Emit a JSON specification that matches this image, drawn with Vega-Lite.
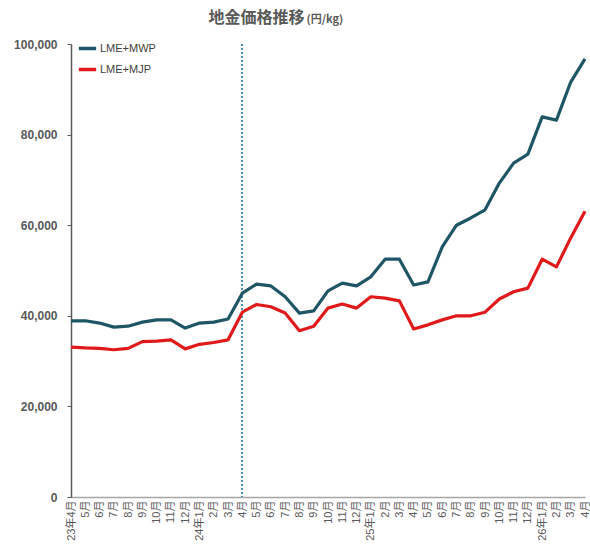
{
  "$schema": "https://vega.github.io/schema/vega-lite/v6.json",
  "autosize": "none",
  "width": 514,
  "height": 453,
  "padding": {"left": 71, "top": 44, "right": 5, "bottom": 57},
  "background": "white",
  "data": {
    "values": [
      {"m": "2023-04", "LME+MWP": 38900, "LME+MJP": 33100},
      {"m": "2023-05", "LME+MWP": 38900, "LME+MJP": 32900},
      {"m": "2023-06", "LME+MWP": 38400, "LME+MJP": 32800},
      {"m": "2023-07", "LME+MWP": 37500, "LME+MJP": 32500},
      {"m": "2023-08", "LME+MWP": 37700, "LME+MJP": 32800},
      {"m": "2023-09", "LME+MWP": 38600, "LME+MJP": 34300},
      {"m": "2023-10", "LME+MWP": 39100, "LME+MJP": 34400},
      {"m": "2023-11", "LME+MWP": 39100, "LME+MJP": 34700},
      {"m": "2023-12", "LME+MWP": 37300, "LME+MJP": 32700},
      {"m": "2024-01", "LME+MWP": 38400, "LME+MJP": 33700},
      {"m": "2024-02", "LME+MWP": 38600, "LME+MJP": 34100},
      {"m": "2024-03", "LME+MWP": 39300, "LME+MJP": 34700},
      {"m": "2024-04", "LME+MWP": 45000, "LME+MJP": 40800},
      {"m": "2024-05", "LME+MWP": 47000, "LME+MJP": 42500},
      {"m": "2024-06", "LME+MWP": 46600, "LME+MJP": 42000},
      {"m": "2024-07", "LME+MWP": 44200, "LME+MJP": 40600},
      {"m": "2024-08", "LME+MWP": 40600, "LME+MJP": 36700},
      {"m": "2024-09", "LME+MWP": 41100, "LME+MJP": 37700},
      {"m": "2024-10", "LME+MWP": 45500, "LME+MJP": 41700},
      {"m": "2024-11", "LME+MWP": 47200, "LME+MJP": 42600},
      {"m": "2024-12", "LME+MWP": 46600, "LME+MJP": 41700},
      {"m": "2025-01", "LME+MWP": 48600, "LME+MJP": 44200},
      {"m": "2025-02", "LME+MWP": 52500, "LME+MJP": 43900},
      {"m": "2025-03", "LME+MWP": 52500, "LME+MJP": 43300},
      {"m": "2025-04", "LME+MWP": 46800, "LME+MJP": 37100},
      {"m": "2025-05", "LME+MWP": 47500, "LME+MJP": 38000},
      {"m": "2025-06", "LME+MWP": 55200, "LME+MJP": 39100},
      {"m": "2025-07", "LME+MWP": 60000, "LME+MJP": 40000},
      {"m": "2025-08", "LME+MWP": 61600, "LME+MJP": 40000},
      {"m": "2025-09", "LME+MWP": 63400, "LME+MJP": 40800},
      {"m": "2025-10", "LME+MWP": 69300, "LME+MJP": 43700},
      {"m": "2025-11", "LME+MWP": 73700, "LME+MJP": 45300},
      {"m": "2025-12", "LME+MWP": 75700, "LME+MJP": 46100},
      {"m": "2026-01", "LME+MWP": 83900, "LME+MJP": 52500},
      {"m": "2026-02", "LME+MWP": 83200, "LME+MJP": 50800},
      {"m": "2026-03", "LME+MWP": 91600, "LME+MJP": 57200},
      {"m": "2026-04", "LME+MWP": 96700, "LME+MJP": 63100}
    ]
  },
  "encoding": {
    "x": {
      "field": "m",
      "type": "ordinal",
      "scale": {"type": "point", "padding": 0},
      "axis": {
        "title": "(円/kg)",
        "titleAngle": 0,
        "titleAlign": "left",
        "titleBaseline": "middle",
        "titleX": 235,
        "titleY": -478,
        "titleFontSize": 11,
        "titleFontWeight": "bold",
        "titleColor": "#595959",
        "titleFont": "Noto Sans CJK JP",
        "labelAngle": 270,
        "labelAlign": "right",
        "labelBaseline": "middle",
        "labelFontSize": 11,
        "labelColor": "#595959",
        "labelFont": "Liberation Sans, Noto Sans CJK JP",
        "labelPadding": 3,
        "ticks": false,
        "domainColor": "#a6a6a6",
        "domainWidth": 1.5,
        "grid": false,
        "labelOverlap": false,
        "labelExpr": "((datum.value == '2023-04' || slice(datum.value, 5) == '01') ? slice(datum.value, 2, 4) + '年' : '') + toNumber(slice(datum.value, 5)) + '月'"
      }
    }
  },
  "layer": [
    {
      "mark": {"type": "rule", "strokeDash": [2, 2], "color": "#4a90c0", "strokeWidth": 1.2},
      "encoding": {"x": {"datum": "2024-04"}}
    },
    {
      "transform": [{"fold": ["LME+MWP", "LME+MJP"], "as": ["series", "value"]}],
      "mark": {"type": "line", "strokeWidth": 3.2, "strokeJoin": "round"},
      "encoding": {
        "y": {
          "field": "value",
          "type": "quantitative",
          "scale": {"domain": [0, 100000], "nice": false},
          "axis": {
            "values": [0, 20000, 40000, 60000, 80000, 100000],
            "format": ",.0f",
            "grid": false,
            "labelFontSize": 12,
            "labelFontWeight": "bold",
            "labelColor": "#595959",
            "labelFont": "Liberation Sans",
            "labelPadding": 10,
            "tickSize": 4,
            "tickColor": "#595959",
            "domainColor": "#595959",
            "domainWidth": 1.5,
            "title": "地金価格推移",
            "titleAngle": 0,
            "titleAlign": "left",
            "titleBaseline": "middle",
            "titleX": 137,
            "titleY": -27,
            "titleFontSize": 16,
            "titleFontWeight": "bold",
            "titleColor": "#595959",
            "titleFont": "Noto Sans CJK JP"
          }
        },
        "color": {
          "field": "series",
          "type": "nominal",
          "sort": ["LME+MWP", "LME+MJP"],
          "scale": {"domain": ["LME+MWP", "LME+MJP"], "range": ["#1f5666", "#e0191b"]},
          "legend": {
            "title": null,
            "orient": "none",
            "legendX": 6,
            "legendY": -6,
            "symbolType": "stroke",
            "symbolSize": 300,
            "symbolStrokeWidth": 3.5,
            "labelFontSize": 11,
            "labelColor": "#404040",
            "labelFont": "Liberation Sans",
            "rowPadding": 3,
            "labelOffset": 2
          }
        }
      }
    }
  ],
  "config": {"view": {"stroke": null}}
}
